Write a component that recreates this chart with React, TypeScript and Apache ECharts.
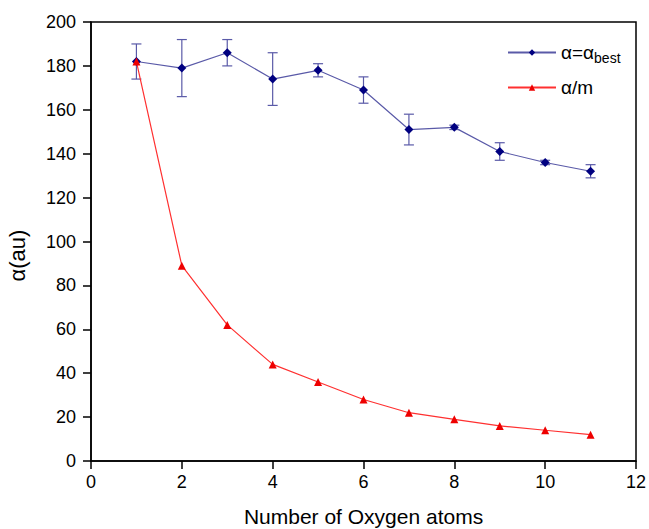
import React, { useEffect, useRef } from "react";
import * as echarts from "echarts";

const xValues = [1, 2, 3, 4, 5, 6, 7, 8, 9, 10, 11];
const bestValues = [182, 179, 186, 174, 178, 169, 151, 152, 141, 136, 132];
const bestLow = [174, 166, 180, 162, 175, 163, 144, 151, 137, 135, 129];
const bestHigh = [190, 192, 192, 186, 181, 175, 158, 153, 145, 137, 135];
const mValues = [182, 89, 62, 44, 36, 28, 22, 19, 16, 14, 12];
const xTicks = [0, 2, 4, 6, 8, 10, 12];
const yTicks = [0, 20, 40, 60, 80, 100, 120, 140, 160, 180, 200];

const FONT = "Liberation Sans, Arial, sans-serif";

export default function App() {
  const ref = useRef<HTMLDivElement>(null);
  useEffect(() => {
    if (!ref.current) return;
    const chart = echarts.init(ref.current, null, { renderer: "svg" });
    const errData = xValues.map((x, i) => [x, bestLow[i], bestHigh[i]]);
    chart.setOption({
      animation: false,
      backgroundColor: "#ffffff",
      textStyle: { fontFamily: FONT },
      grid: {
        left: 91,
        right: 13,
        top: 22,
        bottom: 68,
        containLabel: false,
        outerBoundsMode: "none",
        show: true,
        borderColor: "#000",
        borderWidth: 1.5,
      },
      legend: {
        data: ["best", "m"],
        orient: "vertical",
        left: 502,
        top: 38,
        itemWidth: 48,
        itemHeight: 8,
        itemGap: 13,
        formatter: (name: string) =>
          name === "best" ? "{n|α=α}{s|best}" : "{n|α/m}",
        textStyle: {
          fontFamily: FONT,
          color: "#000",
          rich: {
            n: { fontSize: 19, fontFamily: FONT, color: "#000" },
            s: {
              fontSize: 14,
              fontFamily: FONT,
              color: "#000",
              padding: [11, 0, 0, 0],
            },
          },
        },
      },
      xAxis: {
        type: "value",
        min: 0,
        max: 12,
        interval: 2,
        name: "Number of Oxygen atoms",
        nameLocation: "middle",
        nameGap: 45,
        nameTextStyle: { fontSize: 21, color: "#000", fontFamily: FONT },
        axisLine: { show: true, lineStyle: { color: "#000", width: 1.5 } },
        axisTick: { show: true, inside: false, length: 8, lineStyle: { color: "#000", width: 1.5 } },
        axisLabel: {
          fontSize: 18,
          color: "#000",
          margin: 12,
          fontFamily: FONT,
          formatter: (v: number) => (xTicks.includes(v) ? String(v) : ""),
        },
        splitLine: { show: false },
      },
      yAxis: {
        type: "value",
        min: 0,
        max: 200,
        interval: 20,
        name: "α(au)",
        nameLocation: "middle",
        nameGap: 63,
        nameRotate: 90,
        nameTextStyle: {
          fontSize: 22,
          color: "#000",
          fontFamily: FONT,
          padding: [0, 28, 0, 0],
        },
        axisLine: { show: true, lineStyle: { color: "#000", width: 1.5 } },
        axisTick: { show: true, inside: false, length: 8, lineStyle: { color: "#000", width: 1.5 } },
        axisLabel: {
          fontSize: 18,
          color: "#000",
          margin: 15,
          fontFamily: FONT,
          formatter: (v: number) => (yTicks.includes(v) ? String(v) : ""),
        },
        splitLine: { show: false },
      },
      series: [
        {
          name: "errbars",
          type: "custom",
          data: errData,
          z: 2,
          renderItem: (params: any, api: any) => {
            const x = api.value(0);
            const lo = api.coord([x, api.value(1)]);
            const hi = api.coord([x, api.value(2)]);
            const hw = 5;
            const style = { stroke: "#5a5aa8", lineWidth: 1.2 };
            return {
              type: "group",
              children: [
                { type: "line", shape: { x1: lo[0], y1: lo[1], x2: hi[0], y2: hi[1] }, style },
                { type: "line", shape: { x1: lo[0] - hw, y1: lo[1], x2: lo[0] + hw, y2: lo[1] }, style },
                { type: "line", shape: { x1: hi[0] - hw, y1: hi[1], x2: hi[0] + hw, y2: hi[1] }, style },
              ],
            };
          },
        },
        {
          name: "best",
          type: "line",
          data: xValues.map((x, i) => [x, bestValues[i]]),
          symbol: "diamond",
          symbolSize: 9,
          z: 3,
          lineStyle: { color: "#5a5aa8", width: 1.2 },
          itemStyle: { color: "#000080" },
        },
        {
          name: "m",
          type: "line",
          data: xValues.map((x, i) => [x, mValues[i]]),
          symbol: "triangle",
          symbolSize: 8,
          z: 4,
          lineStyle: { color: "#ff3030", width: 1.2 },
          itemStyle: { color: "#ee0000" },
        },
      ],
    });
    return () => chart.dispose();
  }, []);
  return (
    <div
      ref={ref}
      style={{ width: 649, height: 529, position: "absolute", left: 0, top: 0 }}
    />
  );
}
